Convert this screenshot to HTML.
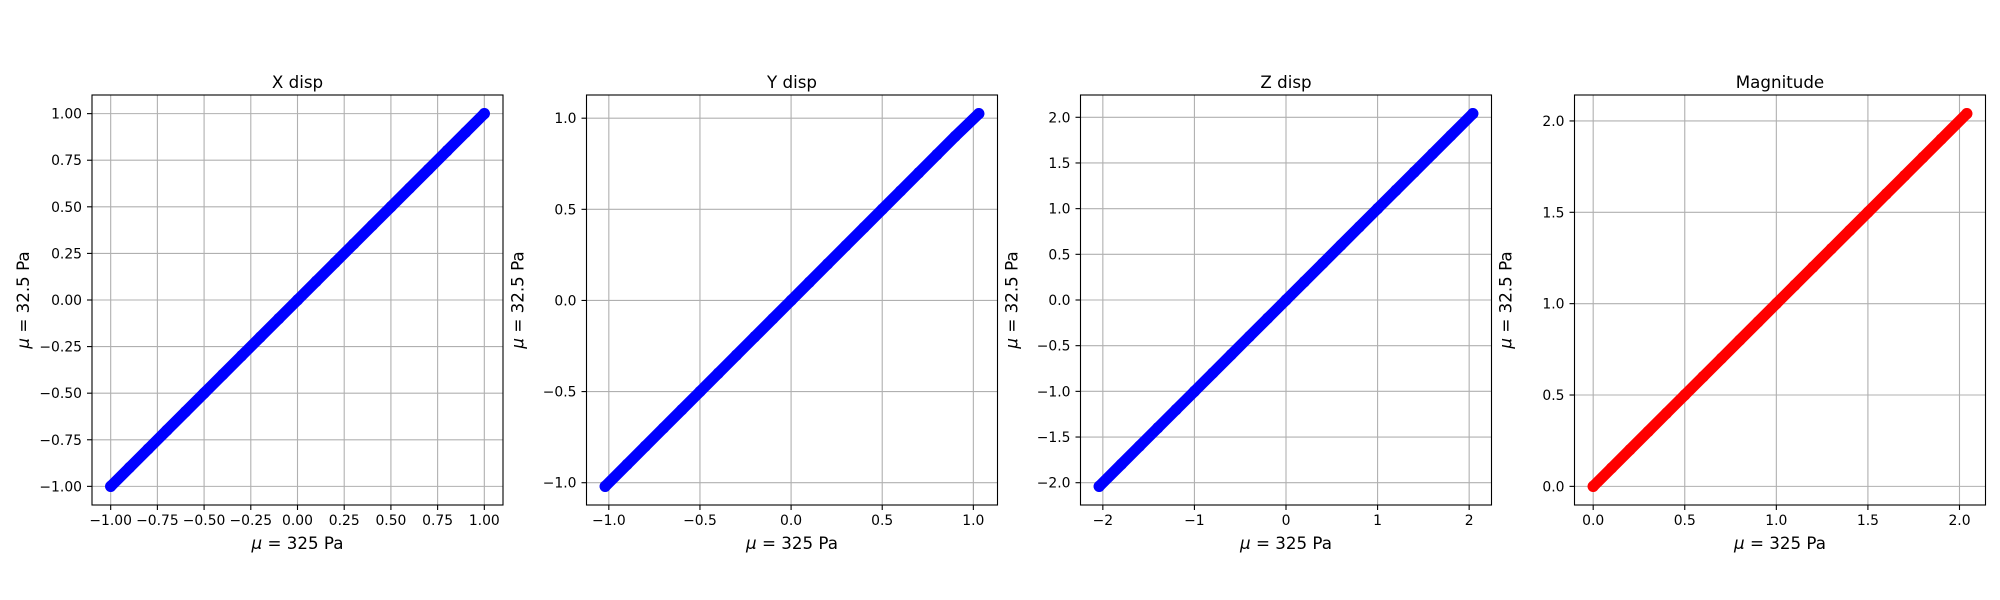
<!DOCTYPE html>
<html><head><meta charset="utf-8"><style>
html,body{margin:0;padding:0;background:#fff}
svg{display:block;font-family:"DejaVu Sans","Liberation Sans",sans-serif}
</style></head><body>
<svg id="fig" width="2000" height="600" viewBox="0 0 2000 600" xmlns="http://www.w3.org/2000/svg"></svg>
<script>
const titles = ["X disp","Y disp","Z disp","Magnitude"];
const colors = ["#0000ff","#0000ff","#0000ff","#ff0000"];
const xTicks1 = [-1,-0.75,-0.5,-0.25,0,0.25,0.5,0.75,1];
const xTickLabels1 = ["−1.00","−0.75","−0.50","−0.25","0.00","0.25","0.50","0.75","1.00"];
const xTicks2 = [-1,-0.5,0,0.5,1];
const xTickLabels2 = ["−1.0","−0.5","0.0","0.5","1.0"];
const xTicks3 = [-2,-1,0,1,2];
const xTickLabels3 = ["−2","−1","0","1","2"];
const yTicks3 = [-2,-1.5,-1,-0.5,0,0.5,1,1.5,2];
const yTickLabels3 = ["−2.0","−1.5","−1.0","−0.5","0.0","0.5","1.0","1.5","2.0"];
const xTicks4 = [0,0.5,1,1.5,2];
const xTickLabels4 = ["0.0","0.5","1.0","1.5","2.0"];

const xData1 = [-1,-0.9,-0.8,-0.7,-0.6,-0.5,-0.4,-0.3,-0.2,-0.1,0,0.1,0.2,0.3,0.4,0.5,0.6,0.7,0.8,0.9,1];
const yData1 = [-1,-0.9,-0.8,-0.7,-0.6,-0.5,-0.4,-0.3,-0.2,-0.1,0,0.1,0.2,0.3,0.4,0.5,0.6,0.7,0.8,0.9,1];
const xData2 = [-1.02,-0.9,-0.8,-0.7,-0.6,-0.5,-0.4,-0.3,-0.2,-0.1,0,0.1,0.2,0.3,0.4,0.5,0.6,0.7,0.8,0.9,1.03];
const yData2 = [-1.02,-0.9,-0.8,-0.7,-0.6,-0.5,-0.4,-0.3,-0.2,-0.1,0,0.1,0.2,0.3,0.4,0.5,0.6,0.7,0.8,0.9,1.025];
const xData3 = [-2.04,-1.8,-1.6,-1.4,-1.2,-1,-0.8,-0.6,-0.4,-0.2,0,0.2,0.4,0.6,0.8,1,1.2,1.4,1.6,1.8,2.04];
const yData3 = [-2.04,-1.8,-1.6,-1.4,-1.2,-1,-0.8,-0.6,-0.4,-0.2,0,0.2,0.4,0.6,0.8,1,1.2,1.4,1.6,1.8,2.04];
const xData4 = [0,0.1,0.2,0.3,0.4,0.5,0.6,0.7,0.8,0.9,1,1.1,1.2,1.3,1.4,1.5,1.6,1.7,1.8,1.9,2.04];
const yData4 = [0,0.1,0.2,0.3,0.4,0.5,0.6,0.7,0.8,0.9,1,1.1,1.2,1.3,1.4,1.5,1.6,1.7,1.8,1.9,2.04];

const xs = [xData1,xData2,xData3,xData4];
const ys = [yData1,yData2,yData3,yData4];
const xTickSets = [xTicks1,xTicks2,xTicks3,xTicks4];
const xLabelSets = [xTickLabels1,xTickLabels2,xTickLabels3,xTickLabels4];
const yTickSets = [xTicks1,xTicks2,yTicks3,xTicks4];
const yLabelSets = [xTickLabels1,xTickLabels2,yTickLabels3,xTickLabels4];

const NS="http://www.w3.org/2000/svg";
const svg=document.getElementById('fig');
function mk(tag,attrs,parent,txt){const e=document.createElementNS(NS,tag);for(const k in attrs)e.setAttribute(k,attrs[k]);if(txt!==undefined)e.textContent=txt;parent.appendChild(e);return e;}
function ext(a){let mn=Math.min(...a),mx=Math.max(...a),r=mx-mn;return [mn-0.05*r,mx+0.05*r];}

const lefts=[92,586.5,1080.5,1574.5];
const W=411, TOP=95, H=410;
for(let p=0;p<4;p++){
  const L=lefts[p];
  const xl=ext(xs[p]), yl=ext(ys[p]);
  const sx=v=>L+(v-xl[0])/(xl[1]-xl[0])*W;
  const sy=v=>TOP+H-(v-yl[0])/(yl[1]-yl[0])*H;
  const g=mk('g',{},svg);
  
  
  const clipId='c'+p;
  const cp=mk('clipPath',{id:clipId},g);
  mk('rect',{x:L,y:TOP,width:W,height:H},cp);
  xTickSets[p].forEach((t,i)=>{
    const x=sx(t);
    const gl=mk('line',{x1:x,x2:x,y1:TOP,y2:TOP+H,stroke:'#b0b0b0','stroke-width':1.1},g);
    
    
    mk('line',{x1:x,x2:x,y1:TOP+H,y2:TOP+H+5,stroke:'#000','stroke-width':1.1},g);
    const tl=mk('text',{x:x,y:TOP+H+20,'text-anchor':'middle','font-size':13.9,fill:'#000'},g,xLabelSets[p][i]);
    
    
  });
  yTickSets[p].forEach((t,i)=>{
    const y=sy(t);
    const gl=mk('line',{x1:L,x2:L+W,y1:y,y2:y,stroke:'#b0b0b0','stroke-width':1.1},g);
    
    
    mk('line',{x1:L-5,x2:L,y1:y,y2:y,stroke:'#000','stroke-width':1.1},g);
    const tl=mk('text',{x:L-10,y:y+5,'text-anchor':'end','font-size':13.9,fill:'#000'},g,yLabelSets[p][i]);
    
    
  });
  const pts=mk('g',{'clip-path':'url(#'+clipId+')'},g);
  
  
  const ptsStr=xs[p].map((v,i)=>sx(v)+','+sy(ys[p][i])).join(' ');
  const band=mk('polyline',{points:ptsStr,fill:'none',stroke:colors[p],'stroke-width':11,'stroke-linecap':'round','stroke-linejoin':'round'},pts);
  
  
  for(let i=0;i<xs[p].length;i++){
    const c=mk('circle',{cx:sx(xs[p][i]),cy:sy(ys[p][i]),r:5.6,fill:colors[p]},pts);
    
    
  }
  const fr=mk('rect',{x:L,y:TOP,width:W,height:H,fill:'none',stroke:'#000','stroke-width':1.1},g);
  
  
  const tt=mk('text',{x:L+W/2,y:88,'text-anchor':'middle','font-size':16.7,fill:'#000'},g,titles[p]);
  
  
  const xlab=mk('text',{x:L+W/2,y:549,'text-anchor':'middle','font-size':16.7,fill:'#000'},g);
  xlab.innerHTML='<tspan font-style="italic">μ</tspan> = 325 Pa';
  
  
  const ylab=mk('text',{x:0,y:0,'text-anchor':'middle','font-size':16.7,fill:'#000',transform:'translate('+(L-63)+','+(TOP+H/2)+') rotate(-90)'},g);
  ylab.innerHTML='<tspan font-style="italic">μ</tspan> = 32.5 Pa';
  
  
}
</script>
</body></html>
